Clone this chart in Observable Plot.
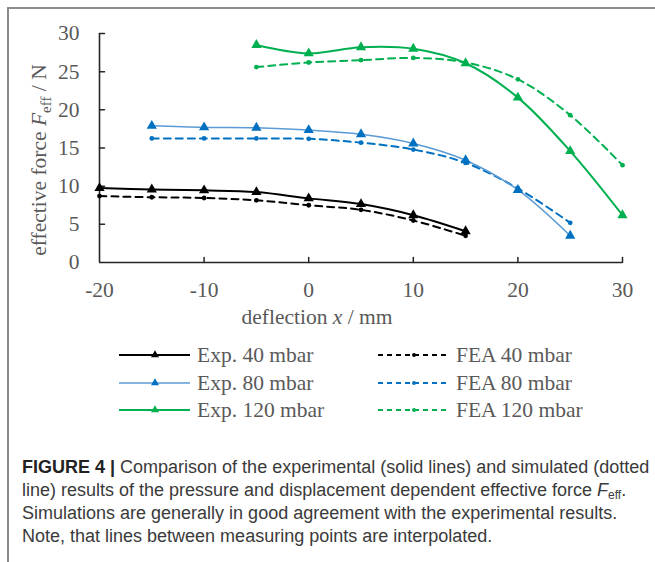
<!DOCTYPE html>
<html>
<head>
<meta charset="utf-8">
<script src="https://cdn.jsdelivr.net/npm/d3@7"></script>
<script src="https://cdn.jsdelivr.net/npm/@observablehq/plot@0.6"></script>
<style>
  html, body { margin: 0; padding: 0; background: #fff; }
  body { width: 655px; height: 562px; position: relative; overflow: hidden; }
  #frame { position: absolute; left: 7px; top: 7px; right: -4px; bottom: -4px;
           border-left: 2px solid #8c8c8c; border-top: 2px solid #8c8c8c; }
  #chart { position: absolute; left: 0; top: 0; }
  #legend { position: absolute; left: 0; top: 0; width: 655px; height: 430px; pointer-events: none; }
  .leg { position: absolute; font-family: "Liberation Serif", serif; font-size: 21.5px; color: #595959;
         white-space: nowrap; display: flex; align-items: center; height: 24px; }
  .leg svg { margin-right: 7px; }
  #caption { position: absolute; left: 22px; top: 456px; font-family: "Liberation Sans", Arial, sans-serif;
             font-size: 18px; line-height: 23px; color: #3a3a3a; white-space: nowrap; }
  #caption b { color: #222; }
  #caption sub { font-size: 12px; line-height: 0; vertical-align: -3px; }
</style>
</head>
<body>
<div id="frame"></div>
<div id="chart"></div>
<div id="legend"></div>
<div id="caption"><b>FIGURE 4 |</b> Comparison of the experimental (solid lines) and simulated (dotted<br>line) results of the pressure and displacement dependent effective force <i>F</i><sub>eff</sub>.<br>Simulations are generally in good agreement with the experimental results.<br>Note, that lines between measuring points are interpolated.</div>
<script>
// ---- data ----
const x40 = [-20, -15, -10, -5, 0, 5, 10, 15];
const exp40 = [9.75, 9.57, 9.45, 9.22, 8.4, 7.65, 6.2, 4.1];
const fea40 = [8.7, 8.55, 8.45, 8.15, 7.5, 6.9, 5.5, 3.5];

const x80 = [-15, -10, -5, 0, 5, 10, 15, 20, 25];
const exp80 = [17.9, 17.7, 17.65, 17.35, 16.8, 15.6, 13.4, 9.5, 3.5];
const fea80 = [16.25, 16.25, 16.25, 16.2, 15.7, 14.8, 13.05, 9.7, 5.2];

const x120 = [-5, 0, 5, 10, 15, 20, 25, 30];
const exp120 = [28.5, 27.4, 28.2, 28.0, 26.1, 21.6, 14.6, 6.2];
const fea120 = [25.6, 26.2, 26.5, 26.8, 26.2, 24.0, 19.3, 12.75];

const xTicks = [-20, -10, 0, 10, 20, 30];
const yTicks = [0, 5, 10, 15, 20, 25, 30];

const seriesNames = ["Exp. 40 mbar", "Exp. 80 mbar", "Exp. 120 mbar", "FEA 40 mbar", "FEA 80 mbar", "FEA 120 mbar"];

// ---- styles ----
const styles = {
  "Exp. 40 mbar":  {line: "#000000", mark: "#000000", width: 2,   dash: null, sym: "triangle"},
  "Exp. 80 mbar":  {line: "#5b9bd5", mark: "#0070c0", width: 1.5, dash: null, sym: "triangle"},
  "Exp. 120 mbar": {line: "#00b050", mark: "#00b050", width: 2,   dash: null, sym: "triangle"},
  "FEA 40 mbar":   {line: "#000000", mark: "#000000", width: 2,   dash: "7,5", sym: "circle"},
  "FEA 80 mbar":   {line: "#0070c0", mark: "#0070c0", width: 2,   dash: "7,5", sym: "circle"},
  "FEA 120 mbar":  {line: "#00b050", mark: "#00b050", width: 2,   dash: "7,5", sym: "circle"}
};

const seriesData = {
  "Exp. 40 mbar": x40.map((x, i) => ({x, y: exp40[i]})),
  "FEA 40 mbar": x40.map((x, i) => ({x, y: fea40[i]})),
  "Exp. 80 mbar": x80.map((x, i) => ({x, y: exp80[i]})),
  "FEA 80 mbar": x80.map((x, i) => ({x, y: fea80[i]})),
  "Exp. 120 mbar": x120.map((x, i) => ({x, y: exp120[i]})),
  "FEA 120 mbar": x120.map((x, i) => ({x, y: fea120[i]}))
};

const drawOrder = ["FEA 40 mbar", "Exp. 40 mbar", "FEA 80 mbar", "Exp. 80 mbar", "FEA 120 mbar", "Exp. 120 mbar"];

const marks = [];
for (const name of drawOrder) {
  const s = styles[name];
  marks.push(Plot.line(seriesData[name], {
    x: "x", y: "y", curve: "catmull-rom", stroke: s.line, strokeWidth: s.width,
    strokeDasharray: s.dash
  }));
  marks.push(Plot.dot(seriesData[name], {
    x: "x", y: "y", symbol: s.sym, r: s.sym === "triangle" ? 3.8 : 2.4,
    fill: s.mark, stroke: "none"
  }));
}

const tickShape = {draw(context, l) { context.moveTo(0, 0); context.lineTo(0, -l); }};

const axisColor = "#262626";
const plot = Plot.plot({
  width: 655,
  height: 340,
  marginLeft: 99,
  marginRight: 33,
  marginTop: 33,
  marginBottom: 78,
  x: {domain: [-20, 30]},
  y: {domain: [0, 30]},
  style: {fontFamily: "'Liberation Serif', serif", fontSize: "21.5px", color: "#595959", background: "transparent"},
  marks: [
    Plot.axisX(xTicks, {tickSize: 0, tickPadding: 19, fill: "#595959", fontSize: 21.5, label: null, tickFormat: d => String(d)}),
    Plot.axisY(yTicks, {tickSize: 0, tickPadding: 20, fill: "#595959", fontSize: 21.5, label: null, tickFormat: d => String(d)}),
    Plot.vector(xTicks.slice(1), {x: d => d, y: 0, length: 5, rotate: 0, anchor: "start", shape: tickShape, stroke: axisColor, strokeWidth: 1.5}),
    Plot.vector(yTicks.slice(1), {x: -20, y: d => d, length: 5, rotate: 90, anchor: "start", shape: tickShape, stroke: axisColor, strokeWidth: 1.5}),
    Plot.ruleY([0], {stroke: axisColor, strokeWidth: 1.6}),
    Plot.ruleX([-20], {stroke: axisColor, strokeWidth: 1.6}),
    ...marks
  ]
});
document.getElementById("chart").appendChild(plot);

// axis titles with italics / subscript
const svg = d3.select(plot);
const xt = svg.append("text")
  .attr("x", 317).attr("y", 324)
  .attr("text-anchor", "middle")
  .attr("font-family", "'Liberation Serif', serif")
  .attr("font-size", 21.5).attr("fill", "#595959");
xt.append("tspan").text("deflection ");
xt.append("tspan").attr("font-style", "italic").text("x");
xt.append("tspan").text(" / mm");

const yt = svg.append("text")
  .attr("transform", "translate(46,160) rotate(-90)")
  .attr("text-anchor", "middle")
  .attr("font-family", "'Liberation Serif', serif")
  .attr("font-size", 21.5).attr("fill", "#595959");
yt.append("tspan").text("effective force ");
yt.append("tspan").attr("font-style", "italic").text("F");
yt.append("tspan").attr("font-size", 15).attr("dy", 5).text("eff");
yt.append("tspan").attr("dy", -5).text(" / N");

// legend
const legend = document.getElementById("legend");
const legPos = [
  {name: "Exp. 40 mbar", left: 119, top: 343},
  {name: "Exp. 80 mbar", left: 119, top: 371},
  {name: "Exp. 120 mbar", left: 119, top: 398},
  {name: "FEA 40 mbar", left: 378, top: 343},
  {name: "FEA 80 mbar", left: 378, top: 371},
  {name: "FEA 120 mbar", left: 378, top: 398}
];
for (const p of legPos) {
  const s = styles[p.name];
  const div = document.createElement("div");
  div.className = "leg";
  div.style.left = p.left + "px";
  div.style.top = p.top + "px";
  const ns = "http://www.w3.org/2000/svg";
  const sv = document.createElementNS(ns, "svg");
  sv.setAttribute("width", 71); sv.setAttribute("height", 12);
  const ln = document.createElementNS(ns, "line");
  ln.setAttribute("x1", 0); ln.setAttribute("x2", 71); ln.setAttribute("y1", 6); ln.setAttribute("y2", 6);
  ln.setAttribute("stroke", s.line); ln.setAttribute("stroke-width", s.width);
  if (s.dash) ln.setAttribute("stroke-dasharray", "5,4");
  sv.appendChild(ln);
  const m = document.createElementNS(ns, "path");
  const sym = s.sym === "triangle" ? d3.symbolTriangle : d3.symbolCircle;
  m.setAttribute("d", d3.symbol(sym, s.sym === "triangle" ? 28 : 12)());
  m.setAttribute("transform", "translate(36,6)");
  m.setAttribute("fill", s.mark);
  sv.appendChild(m);
  div.appendChild(sv);
  div.appendChild(document.createTextNode(p.name));
  legend.appendChild(div);
}
</script>
</body>
</html>
